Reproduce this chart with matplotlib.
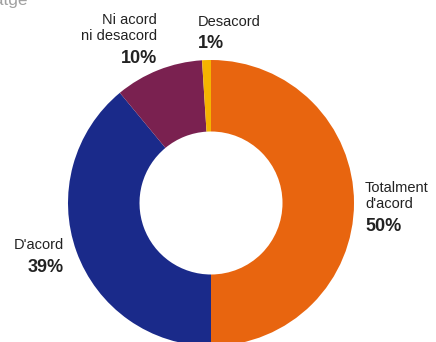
import matplotlib.pyplot as plt

plt.rcParams['font.family'] = ['Liberation Sans', 'DejaVu Sans']

# respostes, en ordre des de dalt i en sentit horari
categories = ["Totalment\nd'acord", "D'acord", "Ni acord\nni desacord", "Desacord"]
percentatges = [50, 39, 10, 1]
colors = ["#E8650F", "#1A2A8A", "#7A2150", "#F5B400"]

W, H = 436, 342
fig = plt.figure(figsize=(W / 100, H / 100), dpi=100)

# anell centrat a (211, 203) px, radi 143 px
cx, cy, r = 211, 203, 143
ax = fig.add_axes([(cx - r) / W, (H - cy - r) / H, 2 * r / W, 2 * r / H])
ax.pie(percentatges, colors=colors, startangle=90, counterclock=False,
       radius=1, wedgeprops=dict(width=0.5, linewidth=0))
ax.set_xlim(-1, 1)
ax.set_ylim(-1, 1)
ax.set_aspect('equal')
ax.axis('off')


def px(x, y):
    return x / W, 1 - y / H


# (x, dalt del text, línia base del percentatge, alineació)
etiquetes = [
    (365, 181, 231, 'left'),   # Totalment d'acord
    (64, 238, 272, 'right'),   # D'acord
    (157, 13, 63, 'right'),    # Ni acord ni desacord
    (198, 15, 48, 'left'),     # Desacord
]
for cat, val, (x, y, yb, ha) in zip(categories, percentatges, etiquetes):
    fig.text(*px(x, y), cat, ha=ha, va='top', fontsize=10.5,
             color='#222222', linespacing=1.15)
    fig.text(*px(x, yb), f"{val}%", ha=ha, va='baseline',
             fontsize=13, fontweight='bold', color='#222222')

# títol de l'eix tallat a la vora
fig.text(*px(28, 5), "Percentatge", ha='right', va='baseline',
         fontsize=12.5, color='#a0a0a0')

fig.savefig("out.png", dpi=100)
